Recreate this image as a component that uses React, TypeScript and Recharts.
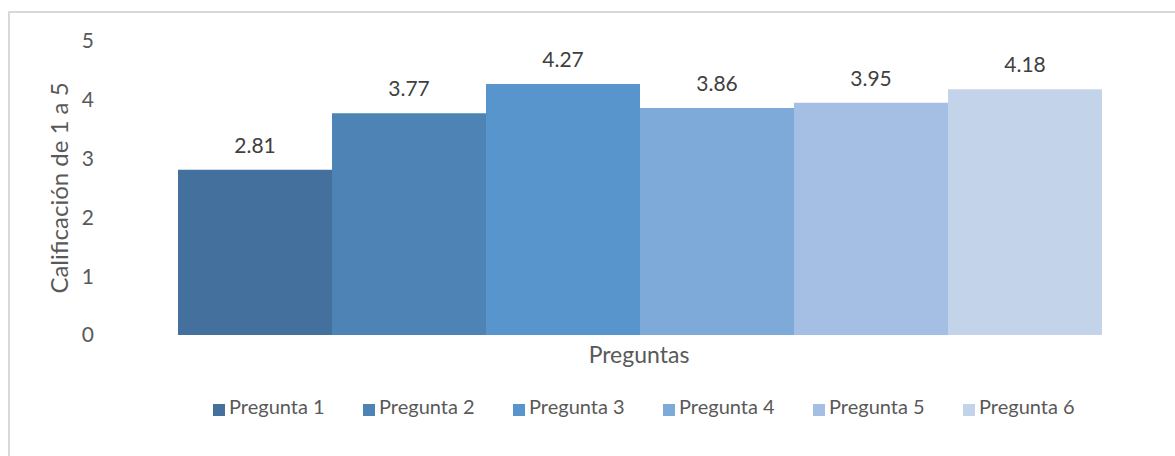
import { BarChart, Bar, XAxis, YAxis, Legend, LabelList } from 'recharts';

const categories = ['Preguntas'];
const seriesNames = ['Pregunta 1', 'Pregunta 2', 'Pregunta 3', 'Pregunta 4', 'Pregunta 5', 'Pregunta 6'];
const seriesValues = [2.81, 3.77, 4.27, 3.86, 3.95, 4.18];
const seriesColors = ['#43709d', '#4e83b5', '#5795cc', '#7daad9', '#a4bfe3', '#c3d4ea'];
const yTicks = [0, 1, 2, 3, 4, 5];

const data = categories.map((name) => {
    const row: Record<string, string | number> = { name };
    seriesNames.forEach((s, i) => { row[s] = seriesValues[i]; });
    return row;
});

const FONT = 'Lato, sans-serif';

const App = () => {
    return (
        <div style={{ position: 'relative', width: 1175, height: 456, fontFamily: FONT }}>
            <style>{'body{margin:0;overflow:hidden}'}</style>
            <div
                style={{
                    position: 'absolute', left: 8, top: 11, width: 1250, height: 500,
                    border: '2px solid #d9d9d9', boxSizing: 'border-box', pointerEvents: 'none'
                }}
            />
            <BarChart
                width={1175}
                height={456}
                data={data}
                margin={{ top: 41, right: 14, left: 0, bottom: 51 }}
                barCategoryGap={61}
                barGap={0}
            >
                <XAxis
                    dataKey="name"
                    tick={false}
                    axisLine={false}
                    tickLine={false}
                    height={40}
                    label={{ value: 'Preguntas', position: 'center', fill: '#595959', fontSize: 23, fontFamily: FONT }}
                />
                <YAxis
                    domain={[0, 5]}
                    ticks={yTicks}
                    width={117}
                    axisLine={false}
                    tickLine={false}
                    tickSize={0}
                    tickMargin={23}
                    tick={{ fill: '#595959', fontSize: 21, fontFamily: FONT }}
                    label={{
                        value: 'Calificación de 1 a 5', angle: -90, position: 'center', dx: 1,
                        fill: '#595959', fontSize: 24, fontFamily: FONT
                    }}
                />
                <Legend
                    verticalAlign="bottom"
                    align="left"
                    iconType="square"
                    iconSize={12}
                    wrapperStyle={{ top: 394, left: 213, width: 950, height: 30, fontFamily: FONT }}
                    formatter={(value) => (
                        <span style={{ display: 'inline-block', width: 124, color: '#595959', fontSize: 20 }}>{value}</span>
                    )}
                />
                {seriesNames.map((s, i) => (
                    <Bar key={s} dataKey={s} fill={seriesColors[i]} isAnimationActive={false}>
                        <LabelList
                            dataKey={s}
                            position="top"
                            offset={17}
                            fill="#404040"
                            fontSize={21}
                            fontFamily={FONT}
                        />
                    </Bar>
                ))}
            </BarChart>
        </div>
    );
};

export default App;
